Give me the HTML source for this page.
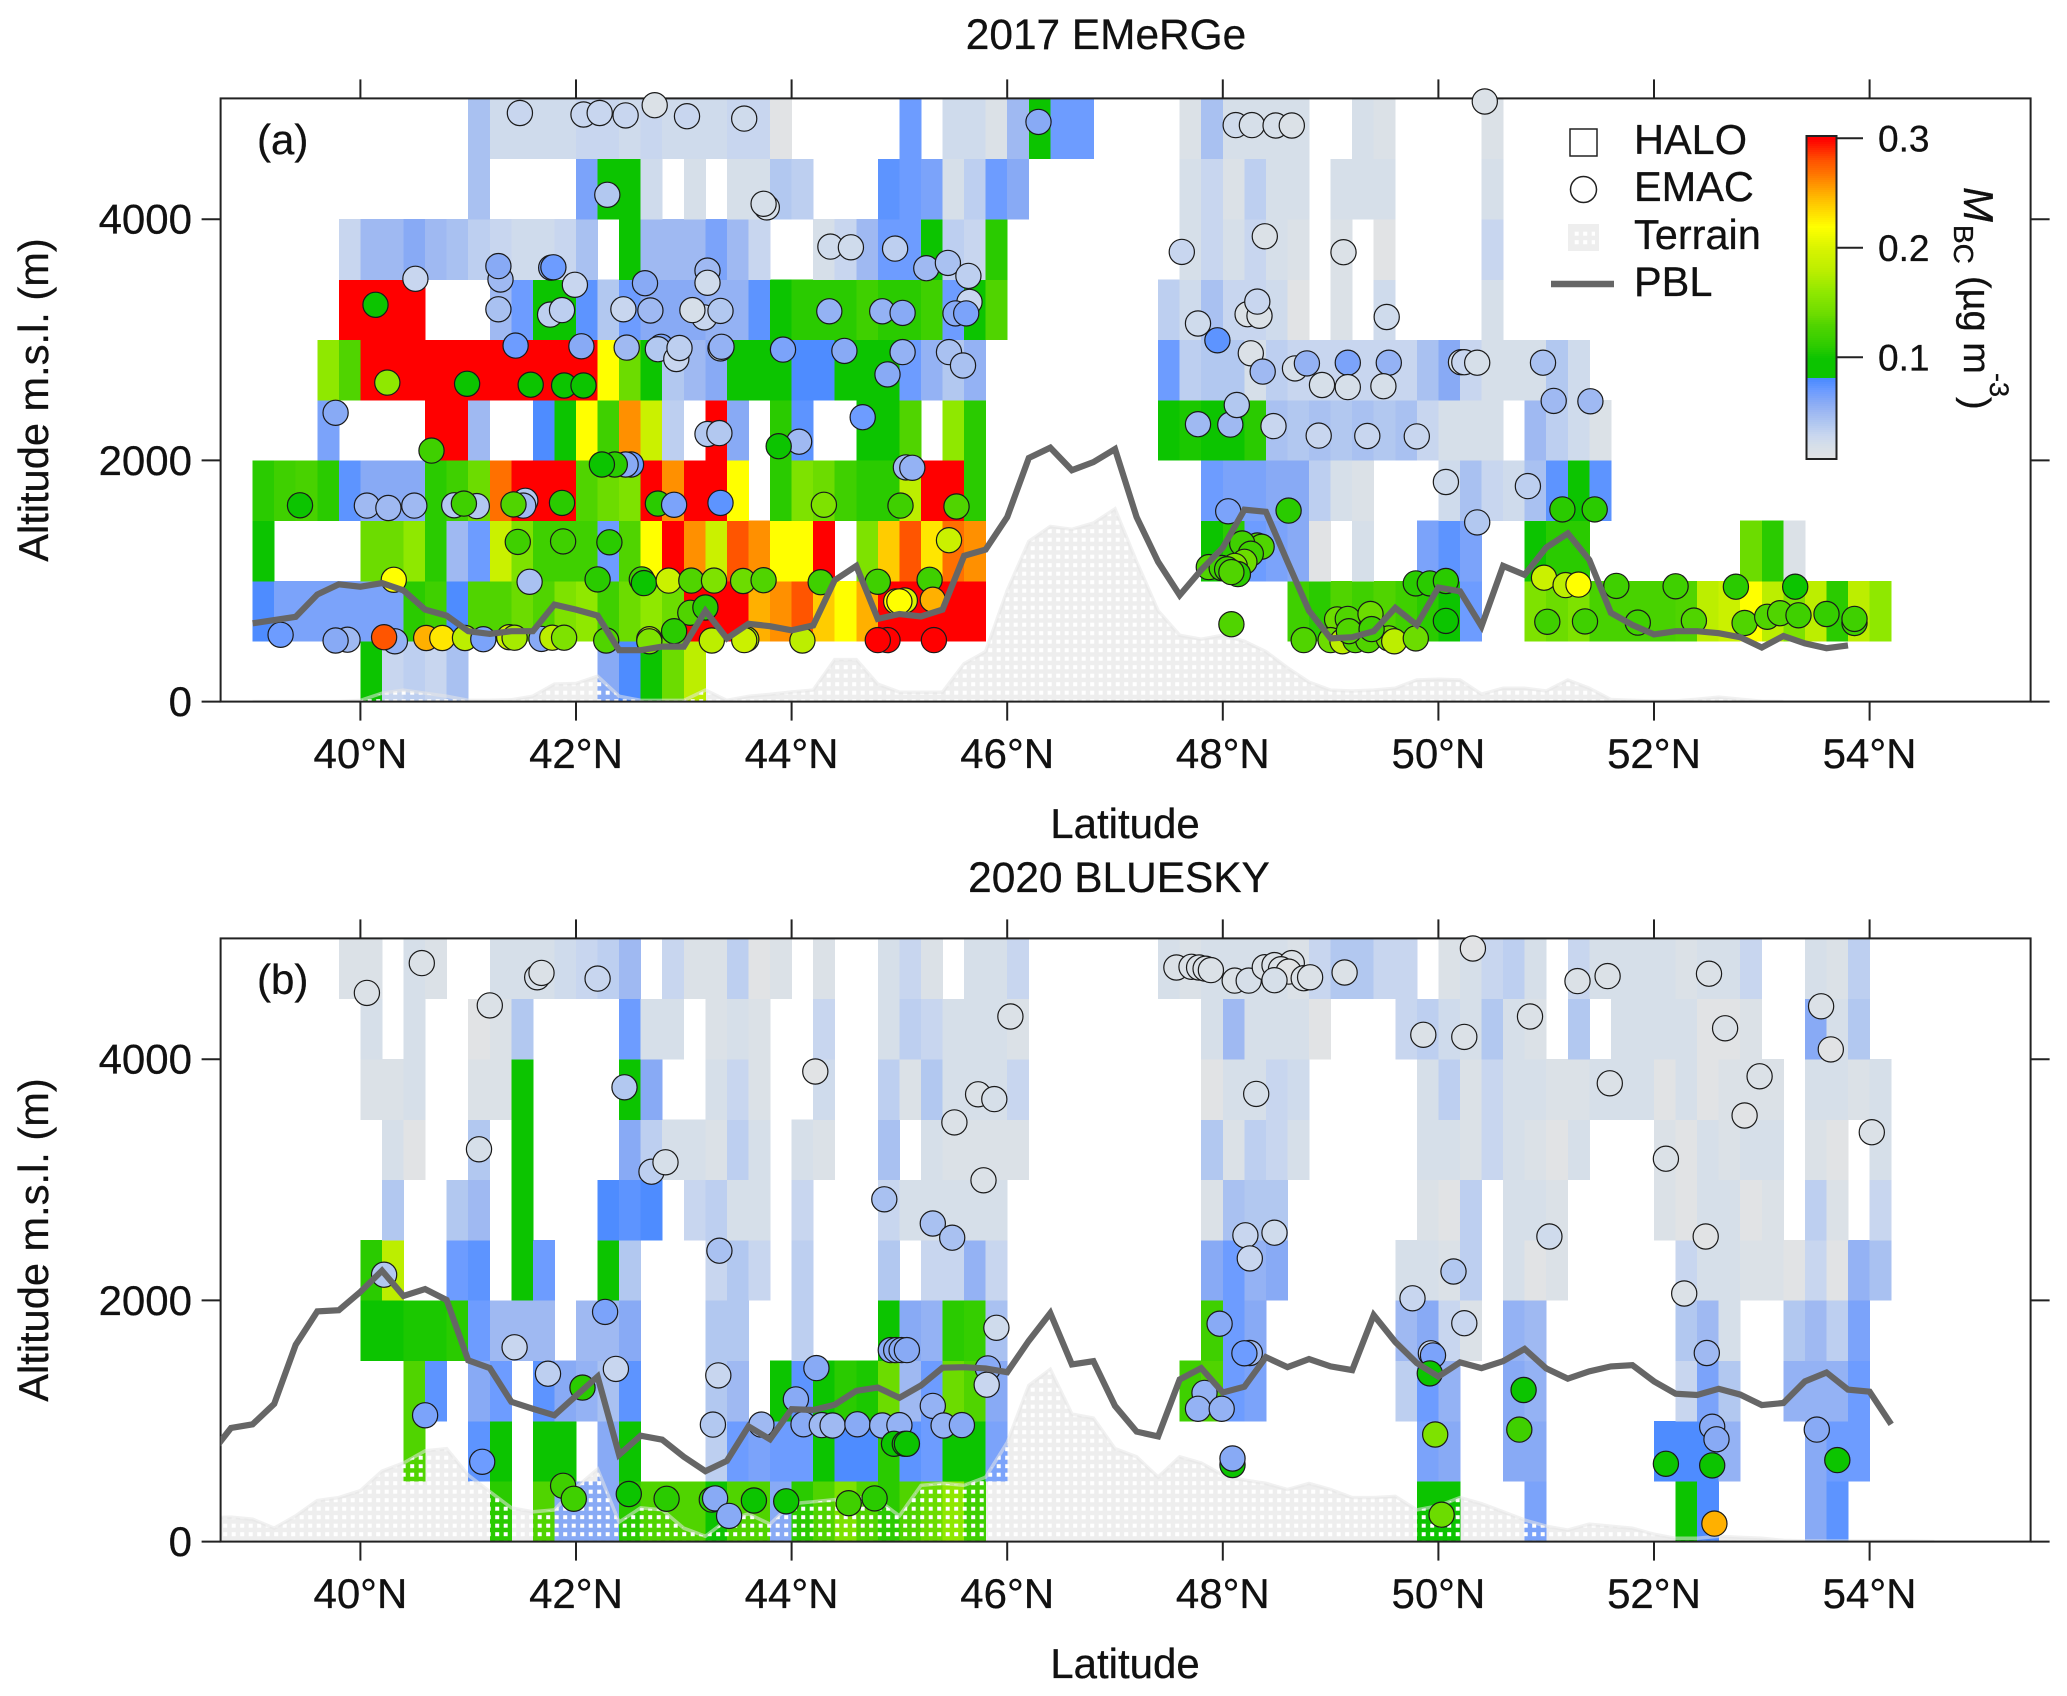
<!DOCTYPE html>
<html><head><meta charset="utf-8"><title>BC altitude-latitude sections</title>
<style>
html,body{margin:0;padding:0;background:#fff}
svg{display:block}
text{font-family:"Liberation Sans",Arial,sans-serif;fill:#111;stroke:#111;stroke-width:.3}
</style></head>
<body>
<svg id="chart" xmlns="http://www.w3.org/2000/svg" width="2067" height="1696" viewBox="0 0 2067 1696">
<defs>
<pattern id="dots" width="8.5" height="8.5" patternUnits="userSpaceOnUse"><rect x="2.2" y="2.2" width="4" height="4" fill="#fff"/></pattern>
<clipPath id="clipA"><rect x="220.6" y="98.4" width="1810" height="603.2"/></clipPath>
<clipPath id="clipB"><rect x="220.6" y="938.4" width="1810" height="603.2"/></clipPath>
</defs>
<g id="panelA"></g>
<g id="panelB"></g>
<text x="1106" y="49" font-size="42.4" text-anchor="middle">2017 EMeRGe</text>
<text x="1119" y="892" font-size="42.4" text-anchor="middle">2020 BLUESKY</text>
<text x="257" y="154" font-size="42">(a)</text>
<text x="257" y="994" font-size="42">(b)</text>
<text transform="translate(48,400) rotate(-90)" font-size="41.6" text-anchor="middle">Altitude m.s.l. (m)</text>
<text transform="translate(48,1240) rotate(-90)" font-size="41.6" text-anchor="middle">Altitude m.s.l. (m)</text>
<text x="1125" y="838" font-size="42" text-anchor="middle">Latitude</text>
<text x="1125" y="1678" font-size="42" text-anchor="middle">Latitude</text>
<g>
<rect x="1570" y="129" width="27" height="27" fill="#fff" stroke="#222" stroke-width="1.5"/>
<text x="1634" y="154" font-size="41.5">HALO</text>
<circle cx="1583.5" cy="189.5" r="13" fill="#fff" stroke="#222" stroke-width="1.5"/>
<text x="1634" y="201" font-size="41.5">EMAC</text>
<rect x="1568" y="224" width="31" height="27" fill="#eee"/>
<rect x="1572" y="228" width="23" height="19" fill="url(#dots)"/>
<text x="1634" y="249" font-size="41.5">Terrain</text>
<line x1="1551" y1="284" x2="1614" y2="284" stroke="#666" stroke-width="6.5"/>
<text x="1634" y="296" font-size="41.5">PBL</text>
</g>
<g id="colorbar"></g>
<g>
<text transform="translate(1964,187) rotate(90)" font-size="42" font-style="italic">M</text>
<text transform="translate(1954,225) rotate(90)" font-size="28">BC</text>
<text transform="translate(1964,276) rotate(90)" font-size="38">(µg m</text>
<text transform="translate(1990,373) rotate(90)" font-size="27">-3</text>
<text transform="translate(1964,397) rotate(90)" font-size="38">)</text>
</g>
</svg>
<script>
// Heat-map cells: mean MBC in units of 0.01 ug/m3. Each row holds runs: [start latitude, value, value, ...], one value per 0.2 deg.
const gridA_4500 = [[41.0,4.5,2.5,2.5,2.5,2.5,3,3,2.5,3,2.5,2.5,2.5,3,3,1],[45.0,7],[45.4,2.5,2.5,1.5,5,10,7,7],[47.6,1.5,4.5,2,2,2,2],[49.2,2,1.5],[50.4,1.5]];
const gridA_4000 = [[41.0,4.5],[42.0,6.5,10,10,2.5],[43.0,2],[43.4,2,2,4,3.5],[44.8,7.5,7,6.5,2,3.5,7,6],[47.6,2,3,1.5,3.5,2,2],[49.0,2,2,2],[50.4,2]];
const gridA_3500 = [[39.8,3,5,5,6,5,4.5,3.5,3,2.5,2.5,3,4.5],[42.4,10,5,5,5,6.5,5,3],[44.2,2,3,5,7,7,10,3.5,3,11],[47.6,2,3,2,3,2,1.5],[49.0,1.5],[49.4,1],[50.4,3]];
const gridA_3000 = [[39.8,30,30,30,30],[41.2,5,7,10,10,7.5,4,7,6,6,6,5.5,5.5,7.5,10,11,11,11,12,11,11,12,7,10,13],[47.4,3.5,2.5,4.5,3,3,2.5,1],[49.0,1.5],[49.4,2.5],[50.4,2]];
const gridA_2500 = [[39.6,16,13,30,30,30,30,30,30,30,30,30,30,30,22,14,10,4,5,6,10,10,10,8,8,10,10,10,7,5.5,4,5.5],[47.4,7,3.5,4,4,2,3.5,3,3,3,3,3,3,4.5,6,3,2,2,2,4,2.5]];
const gridA_2000 = [[39.6,6.5],[40.6,30,30,5],[41.6,8,10,22,12,26,19,3.5],[43.2,30,6],[43.8,11,7.5],[44.6,10,10,13],[45.4,16,11],[47.4,10,10.5,10,10,11,4.5,4,4.5,4,4.5,4,4.5,3,2,2,2],[50.8,5,3.5,2.5,1.5]];
const gridA_1500 = [[39.0,11,12,12.5,11,7.5,6,6,6,11,12,14,27,30,30,30,13,14,15,30,26,30,30,22],[43.8,11,15,14,12,11,11,18,30,30,11],[47.8,7,6.5,6.5,6,6,3.5,2,1.5],[50.0,2.5,4.5,3,2.5,4.5,7.5,10,7.5]];
const gridA_1000 = [[39.0,10],[40.0,14,14,16,11,5,7,19,15,12,12,12,7,13,22,30,26,19,28,26,22,22,30],[44.6,15,24,28,23,27,26],[47.8,10,11,7,6.5,6,1],[49.2,2],[49.8,6.5,7.5,6.5],[50.8,10,11,11],[52.8,14,11,1.5]];
const gridA_500 = [[39.0,8,6.5,6.5,6.5,6.5,6.5,6.5,11,12,8,13,13,14,13,15,16,12,14,16,14,30,30,30,25,26,28,24,22,25,30,30,30,30,30],[48.6,12,11,13,12,13,12,11,10,7],[50.8,15,14,15,12.5,12.5,12.5,12.5,13,18,19,22,18,15,18,11,18,16]];
const gridA_0 = [[40.0,10,3,3.5,3,4.5],[42.2,6,8,10,14,18]];

const gridB_4500 = [[39.8,1.5,1.5],[40.4,2,1.5],[41.2,2,2,2,2.5,3,3.5,5],[42.8,3,1.5,1.5,3.5,1,1.5],[44.2,1.5],[44.8,2,3,1.5],[45.6,2,2,3],[47.4,2,1.5,2,2,2,2,1.5,3,4,4,3,3],[50.0,1.5,2,3,3.5,2],[51.2,3,2,2,2,2,1.5,2,2,3],[53.4,2,1.5,3.5]];
const gridB_4000 = [[40.0,2],[40.4,2],[41.0,1,1.5,4],[42.4,7,2,2],[43.2,1.5,2,1.5],[44.2,3],[44.8,2,3.5,3,2,2,2,1.5],[47.8,2,5,2,2,2,1],[49.6,3,3.5,2.5,2,4,2,1.5],[51.2,4],[51.6,2,2,2,2,1,1,1.5],[53.4,6,2,4]];
const gridB_3500 = [[40.0,1.5,1.5,2],[41.0,1.5,1.5,10],[42.4,10,6],[43.2,2,3,1.5],[44.2,2.5],[44.8,3.5,1.5,4,2,2,2,3],[47.8,1,2,2,3,2.5],[49.8,2,3.5,1.5,3,2,2,1.5,1.5,2,2,2,1,2,1,1.5,1.5,1.5],[53.4,2,2,1.5,2]];
const gridB_3000 = [[40.2,2,1],[41.0,4],[41.4,10],[42.4,6,3.5,2,2,1.5,3.5,2],[44.0,2,1.5],[44.8,4.5],[45.2,2,1.5,1.5,1.5,1.5],[47.8,4,1.5,3.5,3,2],[49.8,2,2,1.5,3,2,1.5,1,2],[52.0,1.5,1,2,1.5,2,2],[53.4,1.5,1],[54.0,2]];
const gridB_2500 = [[40.2,4],[40.8,4,5],[41.4,10],[42.2,8,7.5,8],[43.0,3,3.5,2,2],[44.0,3],[44.8,3,2,2,2,2,2],[47.8,1.5,4.5,4,4],[49.8,1.5,1,3.5],[50.6,2,2,1.5],[52.0,1.5,1,2,2,1,1.5],[53.4,3.5,1.5],[54.0,3]];
const gridB_2000 = [[40.0,11,18],[40.8,7,7.5],[41.4,10,7],[42.2,10,4],[43.2,3,4,3],[44.0,3.5],[44.8,4],[45.2,3,3,5.5,3],[47.8,6,7,5.5,6],[49.6,2,2,1.5,3.5],[50.6,2,1,1.5],[52.2,3,2,2,1.5,1.5,1,3,1,5.5,4.5]];
const gridB_1500 = [[40.0,10,10,10.5,10.5,11,7,5,5,5],[42.0,5,5,6],[43.2,4,4],[44.0,3.5],[44.8,10,6,5.5,11,11.5,4.5],[47.8,12,7,6],[49.6,5,6,3,1.5],[50.6,5.5,5],[52.2,4,5,2],[53.2,4,5,3.5,6.5]];
const gridB_1000 = [[40.4,13,7.5],[41.0,6,7],[41.6,7.5,6,5.5,4.5,7.5],[43.2,4,5],[43.8,10,7.5,10,11,10.5,14,5,7,14,13,6],[47.6,12,13,7,6.5],[49.6,3.5,7,5.5],[50.6,6,5.5],[52.2,3,6.5,4],[53.2,5.5,5.5,5.5,7]];
const gridB_500 = [[40.4,13],[41.0,7.5,10],[41.6,10,10],[42.2,6,10],[43.2,3.5,7,6.5,7,7,10,8,8,11,7.5,7,10,10,6.5],[49.8,6.5,6],[50.6,6,6],[52.0,8,8,8,5.5],[53.4,6,7,7]];
const gridB_0 = [[41.2,11],[41.6,13,6,6,6,11,13,13,13,10,13,13,6,11,13,15,13,11,13,14,16,12],[49.8,10,10],[50.8,6.5],[52.2,10,8],[53.4,6,7.5]];

// EMAC circles: latitude (deg N), altitude (m), MBC (0.01 ug/m3)
const emacLatA = [41.48,42.07,42.22,42.46,42.73,43.03,43.56,46.29,42.29,43.77,43.74,40.51,41.30,41.28,41.28,41.77,41.79,41.99,41.76,41.87,42.44,42.64,42.69,43.22,43.22,43.19,43.34,43.08,44.36,44.55,44.96,45.25,45.45,45.64,44.35,44.84,45.03,45.65,45.52,45.62,40.14,41.44,42.05,40.25,40.99,41.58,41.89,42.07,42.47,42.79,42.76,42.93,42.96,43.34,43.35,43.92,44.49,45.03,44.89,45.46,45.59,39.77,40.66,44.66,43.22,43.33,44.07,43.88,45.06,45.12,42.51,42.46,42.36,42.24,39.44,40.06,40.26,40.50,40.87,41.08,40.96,41.53,41.51,41.42,41.87,42.76,42.91,43.34,44.30,45.01,45.53,41.46,41.88,42.31,45.46,41.57,42.20,42.61,42.63,40.31,42.86,43.07,43.28,43.55,43.74,44.27,44.80,45.28,43.06,43.20,42.91,45.31,44.97,45.05,45.00,39.26,39.88,39.77,40.32,40.22,40.61,40.76,40.97,41.14,41.38,41.43,41.68,41.78,41.89,42.28,42.68,42.68,43.26,43.58,43.56,44.10,44.89,44.80,45.32,48.12,48.27,48.49,48.64,50.43,48.39,47.62,49.12,48.23,48.34,48.32,47.77,49.52,47.95,48.26,48.37,48.67,48.78,49.16,49.54,48.92,49.16,49.49,50.21,50.24,50.36,50.97,51.07,51.41,47.77,48.07,48.13,48.47,48.89,49.34,49.80,50.07,50.83,50.36,48.05,48.61,51.15,51.45,48.32,48.36,48.18,48.26,48.20,48.11,47.87,47.99,48.04,48.14,48.08,48.08,49.79,49.92,50.07,50.07,50.98,51.18,51.30,51.65,52.20,52.76,53.31,48.75,49.06,49.16,49.37,49.00,49.11,49.23,49.35,49.54,49.59,49.79,49.17,49.38,51.01,51.36,51.85,52.37,52.84,53.05,53.17,53.34,53.60,53.86,53.86];
const emacAltA = [4881,4868,4881,4861,4945,4854,4834,4807,4202,4098,4128,3506,3500,3611,3253,3598,3601,3456,3209,3246,3253,3469,3243,3574,3473,3186,3240,3246,3773,3767,3756,3594,3638,3530,3236,3236,3223,3314,3219,3219,3290,2952,2946,2645,2635,2628,2621,2621,2935,2942,2922,2841,2932,2929,2942,2919,2908,2898,2713,2898,2787,2395,2081,2358,2219,2226,2155,2118,1942,1939,1966,1966,1966,1966,1628,1625,1605,1625,1628,1621,1642,1665,1625,1635,1648,1642,1632,1648,1632,1625,1618,1324,1328,1321,1338,993,1013,1013,983,1010,1003,1003,1003,1000,1007,990,993,1010,736,780,584,845,831,838,831,554,513,507,500,534,527,527,527,517,534,530,520,530,530,507,517,500,507,517,510,507,510,510,510,4780,4780,4777,4777,4976,3858,3729,3726,3212,3199,3317,3135,3189,2996,2888,2736,2763,2804,2810,2810,2625,2608,2615,2814,2814,2810,2810,2493,2490,2300,2297,2459,2284,2206,2202,2199,1821,1787,1486,1578,1584,1594,1594,1294,1284,1311,1226,1159,1125,1115,1108,1098,1057,1074,642,980,980,1000,669,1027,966,970,959,956,953,953,510,682,686,726,510,500,510,510,524,500,524,584,601,662,665,655,672,652,703,733,716,726,652,686];
const emacValA = [3,3,3,3,1.5,3,2.5,6,4,2,2,3,5,6,4.5,6,7,3,3.5,3.5,3,6,5,5,2.5,3,4,2,2.5,2.5,3.5,5,4.5,3.5,5.5,5.5,6,3,6,6.5,10,7,6,16,10,10,10,10,5,6.5,4,3,3.5,3.5,5.5,6.5,6,5.5,6,4.5,4.5,6,12,7,4,4,5,10,5,5.5,7,6,11,10,10,5,5,5,4,4,12,4,5,13,11,11,6.5,7.5,15,12,13,12,12,11,19,4.5,11,12,10,22,19,13,15,14,13,12,12,12,13,11,11,25,22,20,22,7,5,6,5.5,28,25,23,18,6.5,19,17,6,18,15,13,18,15,18,17,19,18,30,30,30,2.5,2,2,1.5,1.5,1.5,3,1.5,1.5,1.5,3,2.5,2.5,7.5,1.5,5,2,5.5,6.5,5.5,2,2,2,2,3,2,4.5,5,5,5,5,4,3,3,3,3,2.5,3.5,4,6.5,11,11,11,13,13,12,12,14,15,13,12,12,11,13,13,11,11,11,10,19,18,22,12,12,11,10,13,14,13,14,14,18,13,13,14,18,14,13,12,12,12,12,13,13,13,13,12,11.5,12,12];

const emacLatB = [40.06,40.57,41.20,41.64,41.68,42.20,46.03,44.22,45.73,45.88,45.51,45.78,42.45,41.10,42.70,42.83,44.86,45.31,45.49,43.33,40.22,42.27,41.43,41.74,42.06,42.37,40.60,41.13,45.90,44.92,44.97,45.02,45.07,44.23,44.04,43.32,43.27,43.72,44.11,44.28,44.38,44.61,44.84,45.00,45.31,45.41,45.58,45.82,45.81,44.95,45.05,45.07,41.88,41.98,42.49,42.84,43.26,43.29,43.42,43.65,43.95,44.53,44.77,47.57,47.71,47.78,47.84,47.89,48.11,48.24,48.39,48.48,48.64,48.54,48.61,48.48,48.75,48.81,49.13,50.32,51.29,51.57,52.51,49.86,50.24,50.85,52.66,53.55,53.64,48.31,51.59,52.98,52.84,54.02,52.11,48.21,48.48,48.25,51.03,52.48,50.14,49.76,52.28,50.24,47.97,48.25,48.20,49.93,49.95,52.49,49.92,47.83,47.77,47.99,52.54,52.58,50.79,50.75,49.97,53.51,48.09,48.09,52.11,52.54,53.70,50.03,52.56];
const emacAltB = [4550,4797,4446,4679,4716,4668,4354,3898,3709,3669,3476,2996,3767,3253,3067,3145,2838,2638,2520,2412,2213,1905,1611,1392,1277,1432,1047,662,1773,1588,1588,1588,1588,1439,1179,1378,970,970,973,966,963,973,963,966,1125,963,966,1436,1301,811,811,811,463,355,395,355,348,358,213,341,334,318,358,4760,4766,4760,4750,4739,4652,4652,4763,4780,4797,4746,4726,4655,4672,4679,4719,4918,4648,4689,4709,4202,4185,4354,4256,4439,4081,3712,3800,3858,3533,3395,3175,2540,2561,2348,2530,2530,2240,2017,2057,1811,1807,1564,1561,1561,1544,1564,1395,1233,1101,1101,953,848,1257,929,888,929,635,689,645,632,676,223,149];
const emacValB = [1.5,1.5,1.5,2,1.5,3,1.5,1,1.5,2,1.5,1.5,4,2,3.5,2,4.5,4.5,4.5,4.5,4,6.5,3,3.5,11,3,6.5,7,2.5,6,6,6,6,6,6,3,4,5,6,5,5,6,5.5,5.5,5.5,5.5,6,6,3,10,10,10,12,12,10,11,11,6,6,10,10,12,11,1.5,1.5,1.5,1.5,1.5,1.5,2,1.5,1.5,1.5,1.5,1,2,1.5,1.5,1.5,1,1.5,1.5,1.5,1.5,1.5,1.5,1.5,1.5,1,2,1.5,1.5,1,1.5,1.5,3,2.5,3,2.5,1,4,3,1.5,3,6,5,7,3,6.5,5,10,5.5,5.5,5.5,6,6,10,12,15,6,10,6,10,10,10,14,25];

// Planetary boundary layer height (m), one value per 0.2 deg from the start latitude
const pblStartA = 39.0;
const pblA = [649,676,703,888,973,953,983,922,763,713,584,561,584,584,804,763,713,426,426,456,456,753,524,645,625,591,632,1007,1125,686,726,706,763,1209,1260,1530,2020,2105,1919,1986,2094,1530,1159,882,1091,1277,1591,1574,1159,753,524,534,584,777,635,946,915,625,1125,1051,1277,1395,1176,736,635,557,584,584,567,534,449,544,483,443,466];
const pblStartB = 38.6;
const pblB = [714,942,973,1142,1632,1909,1919,2071,2246,2037,2094,2003,1503,1439,1159,1101,1047,1209,1368,720,878,845,703,584,669,956,848,1098,1091,1135,1250,1277,1192,1294,1442,1446,1436,1405,1665,1895,1469,1496,1125,912,872,1344,1439,1236,1284,1530,1446,1513,1453,1422,1878,1655,1480,1368,1486,1439,1496,1598,1436,1351,1412,1453,1463,1328,1226,1216,1267,1219,1132,1149,1328,1402,1260,1243,973];

// Terrain height (m), one value per 0.2 deg from the start latitude
const terrainStartA = 39.0;
const terrainA = [0,0,0,0,0,10,70,95,70,45,10,10,15,45,145,150,210,45,10,10,10,95,10,44,60,80,95,348,348,145,78,78,78,314,415,920,1328,1453,1429,1480,1598,1159,753,550,517,550,500,415,280,162,95,88,95,111,179,186,179,61,111,111,88,179,111,17,10,5,5,20,37,20,3,0];
const terrainStartB = 38.6;
const terrainB = [196,203,186,111,213,341,365,422,584,652,753,770,551,415,280,247,263,449,601,162,280,263,111,44,179,230,145,314,331,348,365,348,213,466,483,466,534,821,1294,1429,1057,1024,770,703,534,703,652,551,510,483,432,483,432,365,365,375,263,297,365,314,247,179,128,95,145,128,111,61,27,27,44,35,27,10,5,5,5,5,5,5,0];

// Axis ticks
const latTicks = [40,42,44,46,48,50,52,54];
const altTicks = [0,2000,4000];
const cbarTicks = [0.1,0.2,0.3];
const cbarTickLabels = ["0.1","0.2","0.3"];

// Colour scale, in the same 0.01 ug/m3 units
const scaleVals = [0.7,2,3,4,5,6,7,8.24,8.25,10,11,12,13,14,16,18,20,22,24,25,26,27,28,30];
const scaleCols = ["#e4e4e4","#d6dfe9","#c8d6ef","#b2c8f0","#9fb9f2","#88aaf5","#6d9cff","#4688ff","#0cc400","#0cc400","#2acb00","#3fd000","#50d400","#6cdc00","#8fe800","#bcee00","#d8f400","#ffff00","#ffcc00","#ffb000","#ff9000","#ff7000","#ff5500","#ff0000"];

const NS = "http://www.w3.org/2000/svg";
const X = function(lat){ return 360.4 + (lat - 40) * 107.8; };
const Yf = function(base){ return function(alt){ return base - alt * 0.1206; }; };
function hex(c){ return [1,3,5].map(function(i){ return parseInt(c.substr(i,2),16); }); }
function color(v){
  if (v <= scaleVals[0]) return scaleCols[0];
  for (let i = 1; i < scaleVals.length; i++) {
    if (v <= scaleVals[i]) {
      const t = (v - scaleVals[i-1]) / (scaleVals[i] - scaleVals[i-1]);
      const a = hex(scaleCols[i-1]), b = hex(scaleCols[i]);
      return "rgb(" + a.map(function(x,k){ return Math.round(x + (b[k]-x)*t); }).join(",") + ")";
    }
  }
  return scaleCols[scaleCols.length-1];
}
function make(tag, parent, attrs){
  const el = document.createElementNS(NS, tag);
  for (const k in attrs) el.setAttribute(k, attrs[k]);
  parent.appendChild(el);
  return el;
}
function seriesPoints(start, vals, Y){
  return vals.map(function(v,i){ return X(start + i * 0.2).toFixed(1) + "," + Y(v).toFixed(1); });
}
function drawPanel(g, clipId, base, rows, rowAlts, lats, alts, vals, pblStart, pbl, terStart, ter){
  const Y = Yf(base);
  const top = base - 603.2, left = 220.6, right = 2030.6;
  const pts = seriesPoints(terStart, ter, Y);
  const first = X(terStart).toFixed(1) + "," + base, last = X(terStart + (ter.length-1)*0.2).toFixed(1) + "," + base;
  const poly = first + " " + pts.join(" ") + " " + last;
  const clipped = make("g", g, {"clip-path":"url(#"+clipId+")"});
  
  
  const terrainFill = make("polygon", clipped, {points:poly, fill:"#eeeeee"});
  
  
  rows.forEach(function(row, r){
    row.forEach(function(run){
      for (let k = 1; k < run.length; k++) {
        const lat = run[0] + (k-1) * 0.2;
        const x0 = X(lat), x1 = X(lat + 0.2), y1 = Y(rowAlts[r]), y0 = Y(rowAlts[r] + 500);
        const cell = make("rect", g, {x:x0.toFixed(1), y:y0.toFixed(1), width:(x1-x0+0.4).toFixed(1), height:(y1-y0+0.3).toFixed(1), fill:color(run[k]), "shape-rendering":"crispEdges"});
        
        
      }
    });
  });
  const over = make("g", g, {"clip-path":"url(#"+clipId+")"});
  
  
  make("polygon", over, {points:poly, fill:"url(#dots)"});
  make("polyline", over, {points:pts.join(" "), fill:"none", stroke:"#e6e6e6", "stroke-opacity":"0.55", "stroke-width":"3.5"});
  const frame = make("rect", g, {x:left, y:top, width:right-left, height:603.2, fill:"none", stroke:"#222", "stroke-width":"2"});
  
  
  latTicks.forEach(function(t){
    const x = X(t);
    const tb = make("line", g, {x1:x, x2:x, y1:base, y2:base+19, stroke:"#222", "stroke-width":"2"});
    
    
    const tt = make("line", g, {x1:x, x2:x, y1:top, y2:top-19, stroke:"#222", "stroke-width":"2"});
    
    
    const lb = make("text", g, {x:x, y:base+66.5, "font-size":"42", "text-anchor":"middle"});
    
    
    lb.textContent = t + "°N";
  });
  altTicks.forEach(function(t){
    const y = Y(t);
    const tl = make("line", g, {x1:left, x2:left-19, y1:y, y2:y, stroke:"#222", "stroke-width":"2"});
    
    
    const tr = make("line", g, {x1:right, x2:right+19, y1:y, y2:y, stroke:"#222", "stroke-width":"2"});
    
    
    const lb = make("text", g, {x:192, y:y+14.5, "font-size":"42", "text-anchor":"end"});
    
    
    lb.textContent = t;
  });
  lats.forEach(function(lat,i){
    const c = make("circle", g, {cx:X(lat).toFixed(1), cy:Y(alts[i]).toFixed(1), r:"12.6", fill:color(vals[i]), stroke:"#1a1a1a", "stroke-width":"1.2"});
    
    
  });
  const lineGroup = make("g", g, {"clip-path":"url(#"+clipId+")"});
  const line = make("polyline", lineGroup, {points:seriesPoints(pblStart, pbl, Y).join(" "), fill:"none", stroke:"#666", "stroke-width":"6.2", "stroke-linejoin":"miter"});
  
  
}
const rowAlts = [0,500,1000,1500,2000,2500,3000,3500,4000,4500];
drawPanel(document.getElementById("panelA"), "clipA", 701.6,
  [gridA_0,gridA_500,gridA_1000,gridA_1500,gridA_2000,gridA_2500,gridA_3000,gridA_3500,gridA_4000,gridA_4500], rowAlts,
  emacLatA, emacAltA, emacValA, pblStartA, pblA, terrainStartA, terrainA);
drawPanel(document.getElementById("panelB"), "clipB", 1541.6,
  [gridB_0,gridB_500,gridB_1000,gridB_1500,gridB_2000,gridB_2500,gridB_3000,gridB_3500,gridB_4000,gridB_4500], rowAlts,
  emacLatB, emacAltB, emacValB, pblStartB, pblB, terrainStartB, terrainB);

// Colour bar
const cb = document.getElementById("colorbar");
const cbY = function(v){ return 357.3 - (v*100 - 10) * 10.95; };
for (let y = 136; y < 459; y += 2) {
  const v100 = 10 + (357.3 - y) / 10.95;
  const seg = make("rect", cb, {x:1806, y:y, width:31, height:2.2, fill:color(v100), "shape-rendering":"crispEdges"});
  
  
}
const cbFrame = make("rect", cb, {x:1806.5, y:136, width:30, height:323, fill:"none", stroke:"#222", "stroke-width":"2"});


cbarTicks.forEach(function(t,i){
  const y = cbY(t);
  const tk = make("line", cb, {x1:1837, x2:1863, y1:y, y2:y, stroke:"#222", "stroke-width":"2"});
  
  
  const lb = make("text", cb, {x:1878, y:y+13, "font-size":"37"});
  
  
  lb.textContent = cbarTickLabels[i];
});
</script>
</body></html>
